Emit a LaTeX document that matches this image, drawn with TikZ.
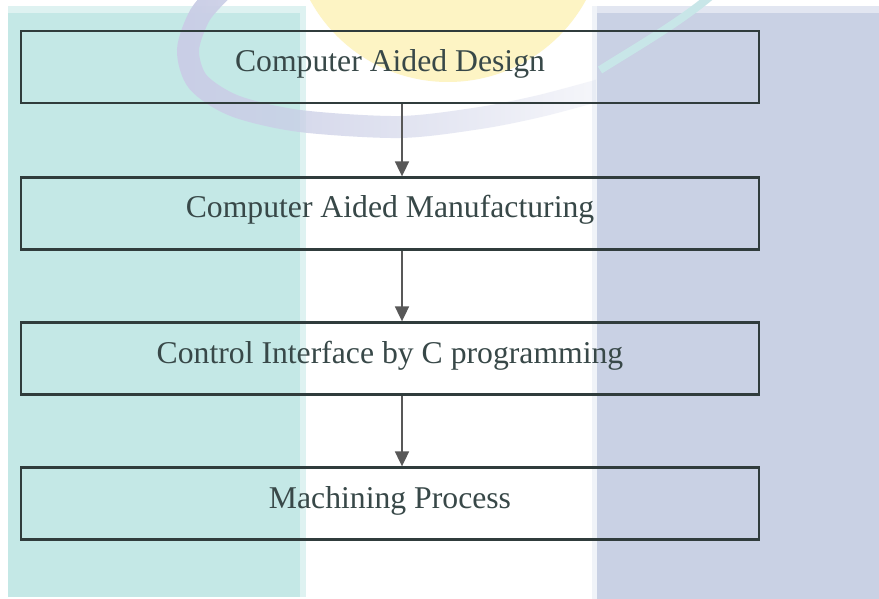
\documentclass[tikz,border=0pt]{standalone}
\usepackage{fontspec}
\setmainfont{Liberation Serif}
\usetikzlibrary{arrows.meta,fadings}
\definecolor{teal1}{RGB}{196,232,230}
\definecolor{teallt}{RGB}{222,242,241}
\definecolor{lav}{RGB}{201,209,228}
\definecolor{lavlt}{RGB}{226,230,241}
\definecolor{arcc}{RGB}{202,206,230}
\definecolor{arcr}{RGB}{200,230,232}
\definecolor{yel}{RGB}{253,244,196}
\definecolor{boxline}{RGB}{48,60,60}
\definecolor{txt}{RGB}{56,72,72}
\definecolor{arrc}{RGB}{88,88,88}
\tikzfading[name=arcfade, left color=transparent!0, middle color=transparent!10, right color=transparent!85]
\begin{document}
\begin{tikzpicture}[x=1pt,y=-1pt,
  procbox/.style={draw=boxline, line width=2.3pt, minimum width=738pt, minimum height=72pt,
    inner sep=0pt, text=txt, font=\fontsize{31.7}{38}\selectfont, text height=20pt, text depth=11pt},
  flowarrow/.style={draw=arrc, line width=1.8pt, -{Triangle[width=14pt,length=15pt,fill=arrc]}}]
\useasboundingbox (0,0) rectangle (879,599);
\begin{scope}
\clip (0,0) rectangle (879,599);
\fill[white] (0,0) rectangle (879,599);
\begin{scope}
\clip (300,0) rectangle (597,599);
\fill[yel] (448,-75) circle[radius=157];
\end{scope}
\fill[teal1] (8,6) rectangle (300,597);
\fill[teallt] (8,6) rectangle (300,13);
\fill[teallt] (300,6) rectangle (306,597);
\fill[lav] (597,6) rectangle (879,599);
\fill[lavlt] (597,6) rectangle (879,13);
\fill[lavlt!50!white] (592,6) rectangle (597,599);
\begin{scope}
\clip (0,0) rectangle (596,599);
\draw[arcc, line width=22pt, path fading=arcfade] plot[smooth] coordinates {(222,-10) (200,15) (188,50) (198,82) (235,106) (300,121) (400,127) (480,118) (540,106) (600,90)};
\end{scope}
\draw[arcr, line width=8pt] (600,70) .. controls (640,45) and (680,22) .. (712,-5);
\end{scope}
\node[procbox] (cad) at (390,67) {Computer Aided Design};
\node[procbox] (cam) at (390,213.5) {Computer Aided Manufacturing};
\node[procbox] (cif) at (390,358.5) {Control Interface by C programming};
\node[procbox] (mach) at (390,503.5) {Machining Process};
\draw[flowarrow] ([xshift=12pt]cad.south) -- ([xshift=12pt]cam.north);
\draw[flowarrow] ([xshift=12pt]cam.south) -- ([xshift=12pt]cif.north);
\draw[flowarrow] ([xshift=12pt]cif.south) -- ([xshift=12pt]mach.north);
\end{tikzpicture}
\end{document}
